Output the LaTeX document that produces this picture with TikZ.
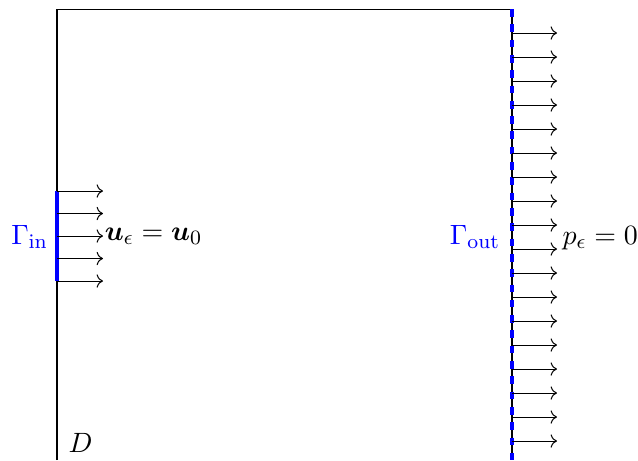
\documentclass[tikz,border=0pt]{standalone}
\usepackage{amsmath,amssymb,bm}
\usetikzlibrary{arrows.meta,positioning}
\tikzset{
  dom wall/.style={draw=black, line width=0.4pt},
  dom inlet/.style={draw=blue, line width=1.3pt},
  dom outlet/.style={draw=blue, dashed, line width=1.2pt},
  dom flow/.style={draw=black, line width=0.4pt, ->},
  dom label/.style={inner sep=2pt, font=\fontsize{11pt}{13pt}\selectfont},
}

\begin{document}
\begin{tikzpicture}[x=0.392pt, y=-0.392pt]
  \useasboundingbox (0,0) rectangle (638,460);

  % Corners of the domain (cut off at the bottom)
  \coordinate (bl) at (57,460);
  \coordinate (tl) at (57,9);
  \coordinate (tr) at (512,9);
  \coordinate (br) at (512,460);
  \draw[dom wall] (bl) -- (tl) -- (tr) -- (br);

  % Inlet on the left wall
  \coordinate (in top) at (57,191);
  \coordinate (in bot) at (57,281);
  \coordinate (in mid) at (57,237);
  \draw[dom inlet] (in top) -- (in bot);
  \foreach \k in {0,...,4} {
    \coordinate (in-\k) at (57,191+22.5*\k);
    \coordinate (in-end-\k) at (103,191+22.5*\k);
    \draw[dom flow] (in-\k) -- (in-end-\k);
  }
  \node[dom label, text=blue, anchor=east] (gin) at ([xshift=-1.3pt]in mid) {$\Gamma_{\mathrm{in}}$};
  \node[dom label, anchor=west] (uin) at ([xshift=-1.5pt]in-end-2) {$\bm{u}_\epsilon = \bm{u}_0$};

  % Outlet on the right wall
  \draw[dom outlet] (tr) -- (br);
  \foreach \k in {0,...,17} {
    \coordinate (out-\k) at (512,33+24*\k);
    \coordinate (out-end-\k) at (557,33+24*\k);
    \draw[dom flow] (out-\k) -- (out-end-\k);
  }
  \coordinate (out mid) at (512,237);
  \node[dom label, text=blue, anchor=east] (gout) at ([xshift=-2.5pt]out mid) {$\Gamma_{\mathrm{out}}$};
  \node[dom label, anchor=west] (pout) at (557,238) {$p_\epsilon = 0$};

  % Domain name
  \node[dom label, anchor=south west] (dom) at (63,458) {$D$};
\end{tikzpicture}
\end{document}
